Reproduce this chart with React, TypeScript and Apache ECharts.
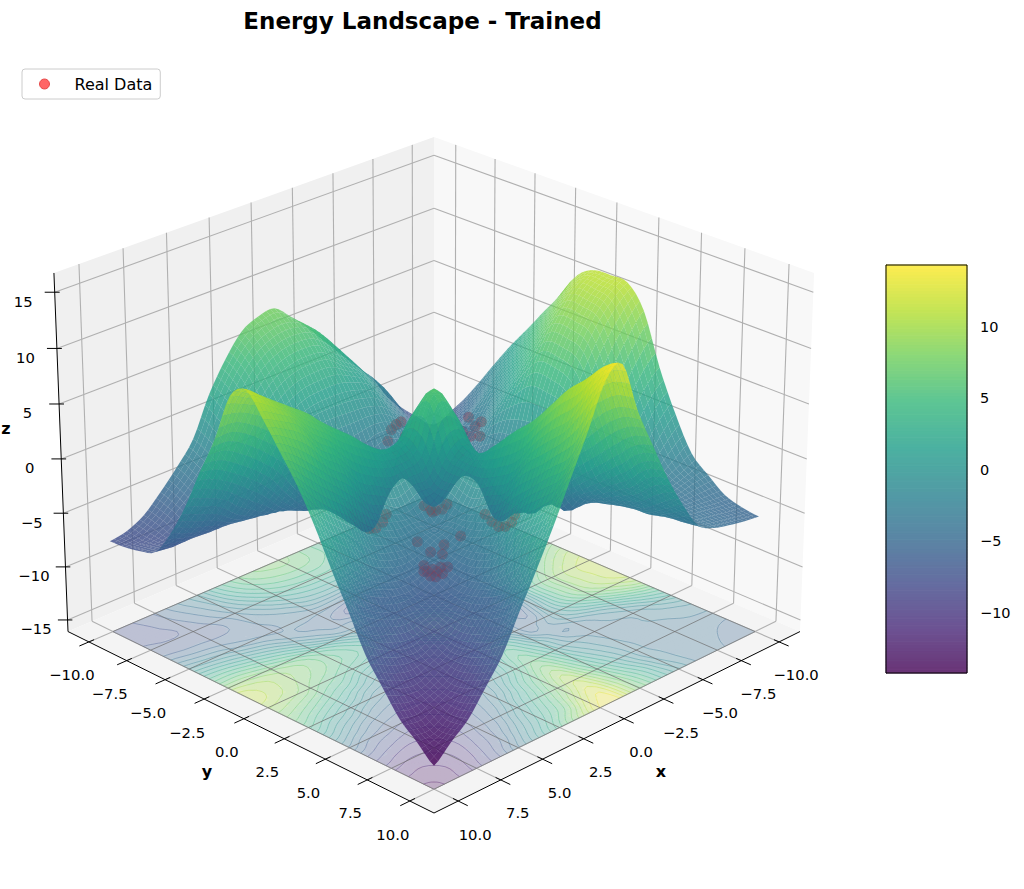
import React, { useEffect, useRef } from "react";
import * as echarts from "echarts";

const titleText = "Energy Landscape - Trained";
const xyTicks = [-10, -7.5, -5, -2.5, 0, 2.5, 5, 7.5, 10];
const zTicks = [-15, -10, -5, 0, 5, 10, 15];
const colorbarTicks = [-10, -5, 0, 5, 10];
const gridCoords = [-10, -9, -8, -7, -6, -5, -4, -3, -2, -1, 0, 1, 2, 3, 4, 5, 6, 7, 8, 9, 10];

// surface heights: one row per y (-10..10), one column per x (-10..10)
const surfaceZ = [
  [-9.5, -8, -6.5, -4.8, -2.3, -0.6, 1.2, 3, 4.8, 6.4, 7.8, 7.6, 6.8, 4.8, 2.2, -1.3, -3.3, -5, -6.5, -7.3, -7.6],
  [-7.5, -9, -7.5, -5.5, -3, -1.2, 0.8, 2.8, 4.7, 6, 6.5, 6.3, 5.5, 3.8, 1.2, -2, -4, -5.5, -6.8, -7.5, -7.5],
  [-5.5, -7, -8, -6.5, -4.5, -2.3, 0, 1.8, 3, 4.3, 4.5, 4.3, 3.5, 1.8, -0.5, -3, -4.8, -6.2, -7.2, -7.3, -7.2],
  [-3.2, -5, -6.5, -7.2, -5.5, -3.5, -1.5, 0.6, 1.5, 2, 2, 1.8, 1, -0.5, -2.5, -4.2, -5.8, -6.6, -6.7, -6.8, -6.6],
  [-0.8, -3, -4.8, -6, -6.8, -5, -3, -1.5, -1, -1, -1, -1, -1.5, -3, -4, -4.8, -5.6, -5.6, -5.3, -4.9, -4.3],
  [1.5, -0.5, -2.5, -4, -5, -6.3, -5.5, -4, -3.5, -4.5, -5.5, -5, -4.5, -4.5, -4.5, -5, -4.6, -3.8, -2.5, -1.8, -1.2],
  [3.6, 1.8, -0.5, -3, -5, -6.3, -7.5, -7.2, -5, -7, -9.3, -8.1, -6.5, -5.2, -4.8, -3.5, -1.5, 0, 1.2, 2.2, 2.6],
  [5.8, 4.3, 2, -0.5, -2.8, -5, -7.2, -8.3, -6, -1.5, -5, -4.5, -4, -4.2, -2.2, 0.3, 2.5, 4, 5.3, 6.2, 6.2],
  [7.9, 6.6, 4.5, 2, -0.3, -3.2, -5, -5.5, -3.5, -0.5, 0.5, -1.5, -2.5, 0, 2.5, 4.5, 6.5, 7.7, 8.9, 9.8, 10.6],
  [10.3, 9, 7, 4.5, 1.5, -2.5, -6, -1.5, -0.5, 4, 4.2, 2, 1.5, 2.5, 4, 5.2, 6.5, 7.8, 9.1, 10.5, 11.7],
  [11.3, 10.7, 9, 6.5, 3, -3, -8.3, -4, 0.5, 4.2, 6, 1.5, 0.8, 1, 1.8, 3, 4.7, 6, 8, 9, 9.8],
  [11.4, 10.7, 9, 6.5, 3, -2.5, -7, -4.5, -1.5, 1.8, 1.5, -1, -1.2, -1.8, -1, -0.2, 2, 3.4, 5, 6.5, 7.6],
  [11.3, 10.2, 8.4, 5.8, 2.5, -1.5, -5.8, -5, -3.2, 1, 0.8, -1.2, -3.2, -3, -3.2, -2.6, -1.7, 0.5, 1.9, 3.5, 5.3],
  [9.3, 7.5, 5.2, 2.5, 0.3, -1.8, -3.8, -5, -0.3, 2.8, 1, -1.8, -3, -3.6, -4.3, -4.5, -4, -3, -1, 0.5, 2.5],
  [4.7, 3.2, 0.8, -1.5, -3, -4.2, -4.8, -2, 1.5, 4.5, 1.8, -1, -3.2, -4.3, -5, -5.7, -5.8, -5.3, -4.4, -2.5, -0.75],
  [1, -0.5, -2.5, -3.5, -3.8, -4, -3, -1, 3, 6, 3, -0.2, -2.6, -4.5, -5.7, -6.5, -7.2, -7.2, -6.6, -5.75, -3.8],
  [-2, -2.8, -3.4, -3.7, -3.9, -3.6, -2, 0.5, 4.5, 8, 5.2, 2, -1.7, -4, -5.8, -7.2, -8, -8.8, -8.6, -7.9, -7],
  [-3.4, -3.6, -3.9, -4, -3.9, -3.2, -1, 2, 6, 10, 7, 3.4, 0.5, -3, -5.3, -7.2, -8.8, -9.6, -10.3, -10, -9.2],
  [-4.6, -4.5, -4.3, -4.1, -3.8, -3, 0, 3.5, 7.8, 11.5, 8.5, 5, 1.9, -1, -4.4, -6.6, -8.6, -10.3, -11, -11.6, -11.3],
  [-5.1, -4.9, -4.6, -4.3, -3.8, -2, 1.5, 5, 9, 13.2, 11, 6.5, 3.5, 0.5, -2.5, -5.75, -7.9, -10, -11.6, -12.6, -12.6],
  [-5.3, -5.1, -4.8, -4.4, -3.5, -1, 2, 5.6, 9.3, 14, 13.2, 9.5, 6, 2.5, -0.75, -3.8, -7, -9.2, -11.3, -12.6, -14],
];

// real data points: x, y, z
const realX = [5.8, 5.9, 5.8, 5.4, 4.8, 5.4, 5.4, 5, 5.4, 5.7, 4, 4.3, 3.4, 4.1, 2.3, 1.3, 1.4, 1.3, 1, 0.5, 1.5, 4.05, 4.35, 4.5, 4.55, 4.3, 3.7, 3.05, 0.05, 0.35, 0.5, 0.3, -0.2, -0.8, -3.2, -3.75, -4.1, -2.25, -3.15, -2.65, -4.2, -3.2, -1.7, -1.8, -5.6, -6.6, -6.1, -6.65, -5.3, -4.35, -4.3, -5.2, -3.55, -5.5];
const realY = [5.2, 5.7, 5.9, 5.9, 5.6, 4.8, 5.3, 5.4, 5.6, 5.3, 3, 4.1, 4, 4.6, 3.9, 0.7, 1.2, 1.4, 1.5, 1.3, 1.4, -0.85, -0.25, 0.3, 0.65, 0.8, 0.6, 0.15, 3.15, 3.85, 4.4, 4.6, 4.5, 4.1, -5.9, -6.15, -6.2, -5.15, -4.95, -4.05, -5.4, -4.2, -3.5, -4.1, -4.7, -4.4, -3.5, -3.65, -3.5, -3.05, -2.4, -2.9, -1.95, -2.6];
const realZ = -3;

const viridis = ["#440154", "#482878", "#3e4989", "#31688e", "#26828e", "#1f9e89", "#35b779", "#6ece58", "#b5de2b", "#fde725"];
const Z_MIN = -14.2;
const Z_MAX = 14.3;
const LIM = 11.4;
const ZLOW = -16.1;
const ZHIGH = 16.7;
const ELEV = (25 * Math.PI) / 180;
const AZIM = (45 * Math.PI) / 180;

function hexRgb(h: string) {
  return [parseInt(h.slice(1, 3), 16), parseInt(h.slice(3, 5), 16), parseInt(h.slice(5, 7), 16)];
}
const lut = viridis.map(hexRgb);
function cmapRgb(z: number) {
  const t = Math.max(0, Math.min(0.99999, (z - Z_MIN) / (Z_MAX - Z_MIN))) * (lut.length - 1);
  const i = Math.floor(t);
  const f = t - i;
  return [0, 1, 2].map((k) => lut[i][k] + (lut[i + 1][k] - lut[i][k]) * f);
}
function cmap(z: number, a: number) {
  const c = cmapRgb(z);
  return `rgba(${c[0].toFixed(0)},${c[1].toFixed(0)},${c[2].toFixed(0)},${a})`;
}
function blendOn(z: number, a: number, bg: number) {
  const c = cmapRgb(z).map((v) => v * a + bg * (1 - a));
  return `rgb(${c[0].toFixed(0)},${c[1].toFixed(0)},${c[2].toFixed(0)})`;
}

// camera
const box = [1.1905, 1.1905, 0.8929];
const R = box.map((b) => b / 2);
const wv = [Math.cos(ELEV) * Math.cos(AZIM), Math.cos(ELEV) * Math.sin(AZIM), Math.sin(ELEV)];
const DIST = 10;
const eye = R.map((r, i) => r + DIST * wv[i]);
const un = Math.hypot(wv[0], wv[1]);
const uv = [-wv[1] / un, wv[0] / un, 0];
const vv = [wv[1] * uv[2] - wv[2] * uv[1], wv[2] * uv[0] - wv[0] * uv[2], wv[0] * uv[1] - wv[1] * uv[0]];
function rawProject(x: number, y: number, z: number) {
  const p = [((x + LIM) / (2 * LIM)) * box[0], ((y + LIM) / (2 * LIM)) * box[1], ((z - ZLOW) / (ZHIGH - ZLOW)) * box[2]];
  const d = p.map((v, i) => v - eye[i]);
  const xc = d[0] * uv[0] + d[1] * uv[1] + d[2] * uv[2];
  const yc = d[0] * vv[0] + d[1] * vv[1] + d[2] * vv[2];
  const zc = d[0] * wv[0] + d[1] * wv[1] + d[2] * wv[2];
  return [xc / -zc, yc / -zc, zc];
}
const rawL = rawProject(LIM, -LIM, ZLOW);
const rawR = rawProject(-LIM, LIM, ZLOW);
const rawF = rawProject(LIM, LIM, ZLOW);
const SCALE = (800 - 68) / (rawR[0] - rawL[0]);
const CX = 434;
const CY = 813 + rawF[1] * SCALE;
function project(x: number, y: number, z: number) {
  const r = rawProject(x, y, z);
  return [CX + r[0] * SCALE, CY - r[1] * SCALE, r[2]];
}

// mesh tessellation of the read grid, for a smooth drawing of the surface
const SUB = 4;
function cr(a: number, b: number, c: number, d: number, t: number) {
  return 0.5 * (2 * b + (c - a) * t + (2 * a - 5 * b + 4 * c - d) * t * t + (3 * b - a - 3 * c + d) * t * t * t);
}
const N0 = gridCoords.length;
function rowAt(j: number, fx: number) {
  const row = surfaceZ[Math.max(0, Math.min(N0 - 1, j))];
  const i = Math.min(N0 - 2, Math.floor(fx));
  const t = fx - i;
  const g = (k: number) => row[Math.max(0, Math.min(N0 - 1, k))];
  return cr(g(i - 1), g(i), g(i + 1), g(i + 2), t);
}
function zAt(fx: number, fy: number) {
  const j = Math.min(N0 - 2, Math.floor(fy));
  const t = fy - j;
  return cr(rowAt(j - 1, fx), rowAt(j, fx), rowAt(j + 1, fx), rowAt(j + 2, fx), t);
}
const NF = (N0 - 1) * SUB + 1;
const fineCoord = Array.from({ length: NF }, (_, i) => gridCoords[0] + (i / SUB) * (gridCoords[1] - gridCoords[0]));
const fineZ = fineCoord.map((_, j) => fineCoord.map((__, i) => zAt(i / SUB, j / SUB)));
const fineP = fineZ.map((row, j) => row.map((z, i) => project(fineCoord[i], fineCoord[j], z)));
const floorP = fineCoord.map((y) => fineCoord.map((x) => project(x, y, ZLOW)));

type Cell = { pts: number[][]; color: string; depth: number };
const cells: Cell[] = [];
for (let j = 0; j < NF - 1; j++) {
  for (let i = 0; i < NF - 1; i++) {
    const q = [fineP[j][i], fineP[j][i + 1], fineP[j + 1][i + 1], fineP[j + 1][i]];
    const zm = (fineZ[j][i] + fineZ[j][i + 1] + fineZ[j + 1][i + 1] + fineZ[j + 1][i]) / 4;
    cells.push({
      pts: q.map((p) => [p[0], p[1]]),
      color: cmap(zm, 0.8),
      depth: (q[0][2] + q[1][2] + q[2][2] + q[3][2]) / 4,
    });
  }
}
cells.sort((a, b) => a.depth - b.depth);

// floor bands and contour lines
const BAND = 1.2;
const bandMap = new Map<number, string[]>();
const fmtP = (p: number[]) => `${p[0].toFixed(2)} ${p[1].toFixed(2)}`;
for (let j = 0; j < NF - 1; j++) {
  for (let i = 0; i < NF - 1; i++) {
    const zm = (fineZ[j][i] + fineZ[j][i + 1] + fineZ[j + 1][i + 1] + fineZ[j + 1][i]) / 4;
    const b = Math.floor(zm / BAND);
    const a = [floorP[j][i], floorP[j][i + 1], floorP[j + 1][i + 1], floorP[j + 1][i]];
    if (!bandMap.has(b)) bandMap.set(b, []);
    bandMap.get(b)!.push(`M${fmtP(a[0])}L${fmtP(a[1])}L${fmtP(a[2])}L${fmtP(a[3])}Z`);
  }
}
const bands = Array.from(bandMap.entries()).map(([b, s]) => ({ color: blendOn((b + 0.5) * BAND, 0.3, 244), path: s.join("") }));

const contourLevels: { level: number; path: string }[] = [];
for (let n = -12; n <= 12; n++) {
  const lv = n * BAND;
  const segs: string[] = [];
  for (let j = 0; j < NF - 1; j++) {
    for (let i = 0; i < NF - 1; i++) {
      const v = [fineZ[j][i], fineZ[j][i + 1], fineZ[j + 1][i + 1], fineZ[j + 1][i]];
      const p = [floorP[j][i], floorP[j][i + 1], floorP[j + 1][i + 1], floorP[j + 1][i]];
      const cross: number[][] = [];
      for (let k = 0; k < 4; k++) {
        const a = v[k];
        const b = v[(k + 1) % 4];
        if (a < lv !== b < lv) {
          const t = (lv - a) / (b - a);
          const m = p[(k + 1) % 4];
          cross.push([p[k][0] + (m[0] - p[k][0]) * t, p[k][1] + (m[1] - p[k][1]) * t]);
        }
      }
      if (cross.length >= 2) segs.push(`M${fmtP(cross[0])}L${fmtP(cross[1])}`);
      if (cross.length === 4) segs.push(`M${fmtP(cross[2])}L${fmtP(cross[3])}`);
    }
  }
  contourLevels.push({ level: lv, path: segs.join("") });
}

const P = project;
const panes = [
  { pts: [P(LIM, -LIM, ZLOW), P(-LIM, -LIM, ZLOW), P(-LIM, -LIM, ZHIGH), P(LIM, -LIM, ZHIGH)], color: "#f0f0f0" },
  { pts: [P(-LIM, LIM, ZLOW), P(-LIM, -LIM, ZLOW), P(-LIM, -LIM, ZHIGH), P(-LIM, LIM, ZHIGH)], color: "#f8f8f8" },
  { pts: [P(LIM, LIM, ZLOW), P(LIM, -LIM, ZLOW), P(-LIM, -LIM, ZLOW), P(-LIM, LIM, ZLOW)], color: "#f4f4f4" },
];
type Seg = { a: number[]; b: number[]; color: string; w: number };
const gridSegs: Seg[] = [];
const GC = "#b0b0b0";
xyTicks.forEach((t) => {
  gridSegs.push({ a: P(t, LIM, ZLOW), b: P(t, -LIM, ZLOW), color: GC, w: 1.1 });
  gridSegs.push({ a: P(t, -LIM, ZLOW), b: P(t, -LIM, ZHIGH), color: GC, w: 1.1 });
  gridSegs.push({ a: P(LIM, t, ZLOW), b: P(-LIM, t, ZLOW), color: GC, w: 1.1 });
  gridSegs.push({ a: P(-LIM, t, ZLOW), b: P(-LIM, t, ZHIGH), color: GC, w: 1.1 });
});
zTicks.forEach((t) => {
  gridSegs.push({ a: P(LIM, -LIM, t), b: P(-LIM, -LIM, t), color: GC, w: 1.1 });
  gridSegs.push({ a: P(-LIM, -LIM, t), b: P(-LIM, LIM, t), color: GC, w: 1.1 });
});
const floorOver: Seg[] = [];
xyTicks.forEach((t) => {
  const c = "rgba(110,110,110,0.7)";
  floorOver.push({ a: P(t, 10, ZLOW), b: P(t, -10, ZLOW), color: c, w: 1 });
  floorOver.push({ a: P(10, t, ZLOW), b: P(-10, t, ZLOW), color: c, w: 1 });
});
const axisSegs: Seg[] = [
  { a: P(LIM, -LIM, ZLOW), b: P(LIM, LIM, ZLOW), color: "#000", w: 1 },
  { a: P(LIM, LIM, ZLOW), b: P(-LIM, LIM, ZLOW), color: "#000", w: 1 },
  { a: P(LIM, -LIM, ZLOW), b: P(LIM, -LIM, ZHIGH), color: "#000", w: 1 },
];
xyTicks.forEach((t) => {
  axisSegs.push({ a: P(LIM - 0.3, t, ZLOW), b: P(LIM + 0.55, t, ZLOW), color: "#000", w: 1 });
  axisSegs.push({ a: P(t, LIM - 0.3, ZLOW), b: P(t, LIM + 0.55, ZLOW), color: "#000", w: 1 });
});
zTicks.forEach((t) => {
  axisSegs.push({ a: P(LIM - 0.15, -LIM + 0.15, t), b: P(LIM + 0.3, -LIM - 0.3, t), color: "#000", w: 1 });
});

const fmtTick = (t: number) => {
  const s = Number.isInteger(t) ? t.toFixed(1) : String(t);
  return s.replace("-", "\u2212");
};
const FONT = '"DejaVu Sans"';
function label(text: string, x: number, y: number, size = 14.8, bold = false) {
  return {
    type: "text",
    x,
    y,
    silent: true,
    style: { text, fill: "#000", font: `${bold ? "bold " : ""}${size}px ${FONT}`, align: "center", verticalAlign: "middle" },
  };
}
const texts: any[] = [];
xyTicks.forEach((t) => {
  const a = P(LIM, t, ZLOW);
  texts.push(label(fmtTick(t), a[0] - 17, a[1] + 33));
  const b = P(t, LIM, ZLOW);
  texts.push(label(fmtTick(t), b[0] + 17, b[1] + 33));
});
zTicks.forEach((t) => {
  const a = P(LIM, -LIM, t);
  texts.push(label(String(t).replace("-", "\u2212"), a[0] - 31.5, a[1] + 9));
});
texts.push(label("y", 207, 771, 16, true));
texts.push(label("x", 661, 771, 16, true));
texts.push(label("z", 6, 428, 16, true));

const colorLevels = Array.from({ length: 128 }, (_, i) => Z_MIN + ((i + 0.5) / 128) * (Z_MAX - Z_MIN));

function polyRender(list: { pts: number[][]; color: string }[]) {
  return (params: any, api: any) => {
    const it = list[params.dataIndex];
    return {
      type: "polygon",
      silent: true,
      shape: { points: it.pts.map((p) => api.coord([p[0], p[1]])) },
      style: { fill: it.color, stroke: "none" },
    };
  };
}
function segRender(list: Seg[]) {
  return (params: any, api: any) => {
    const s = list[params.dataIndex];
    const a = api.coord([s.a[0], s.a[1]]);
    const b = api.coord([s.b[0], s.b[1]]);
    return {
      type: "line",
      silent: true,
      shape: { x1: a[0], y1: a[1], x2: b[0], y2: b[1] },
      style: { stroke: s.color, lineWidth: s.w },
    };
  };
}
const customBase = { type: "custom", coordinateSystem: "cartesian2d", xAxisIndex: 0, yAxisIndex: 0, clip: false, silent: true, progressive: 0, animation: false };
const idx = (a: any[]) => a.map((_, i) => [i]);

export default function App() {
  const ref = useRef<HTMLDivElement>(null);
  useEffect(() => {
    document.body.style.margin = "0";
    const chart = echarts.init(ref.current!, undefined, { renderer: "svg" });
    chart.setOption({
      animation: false,
      backgroundColor: "#fff",
      title: {
        text: titleText,
        left: 417.5,
        top: 4,
        textAlign: "center",
        textStyle: { fontFamily: FONT, fontSize: 23, fontWeight: "bold", color: "#000" },
      },
      legend: {
        data: [{ name: "Real Data", itemStyle: { color: "#ff4040", borderColor: "#e03030", borderWidth: 1 } }],
        left: 22,
        top: 69,
        padding: [7, 8, 7, 17],
        itemWidth: 30,
        itemHeight: 10,
        borderColor: "#ccc",
        borderWidth: 1,
        borderRadius: 3,
        backgroundColor: "#fff",
        selectedMode: false,
        formatter: "{a|Real Data}",
        textStyle: { rich: { a: { fontFamily: FONT, fontSize: 16, color: "#000", padding: [0, 0, 0, 10] } } },
      },
      grid: [
        { left: 0, top: 0, width: 1024, height: 889, show: false },
        { left: 886, top: 265, width: 81, height: 408, show: true, borderColor: "#000", borderWidth: 1, backgroundColor: "transparent", z: 20 },
      ],
      xAxis: [
        { gridIndex: 0, type: "value", min: 0, max: 1024, show: false },
        { gridIndex: 1, type: "value", min: 0, max: 1, show: false },
      ],
      yAxis: [
        { gridIndex: 0, type: "value", min: 0, max: 889, inverse: true, show: false },
        {
          gridIndex: 1,
          type: "value",
          min: Z_MIN,
          max: Z_MAX,
          position: "right",
          splitLine: { show: false },
          axisLine: { show: true, lineStyle: { color: "#000", width: 1 } },
          axisTick: { show: true, length: 6, customValues: colorbarTicks, lineStyle: { color: "#000" } },
          axisLabel: {
            show: true,
            customValues: colorbarTicks,
            margin: 13,
            color: "#000",
            fontFamily: FONT,
            fontSize: 14.5,
            formatter: (v: number) => String(v).replace("-", "\u2212"),
          },
        },
      ],
      series: [
        { ...customBase, name: "panes", z: 1, data: idx(panes), renderItem: polyRender(panes.map((p) => ({ pts: p.pts, color: p.color }))) },
        { ...customBase, name: "grid3d", z: 2, data: idx(gridSegs), renderItem: segRender(gridSegs) },
        {
          ...customBase,
          name: "floorBands",
          z: 3,
          data: idx(bands),
          renderItem: (params: any) => {
            const b = bands[params.dataIndex];
            return { type: "path", silent: true, shape: { pathData: b.path }, style: { fill: b.color, stroke: b.color, lineWidth: 0.5 } };
          },
        },
        {
          ...customBase,
          name: "floorContours",
          z: 4,
          data: idx(contourLevels),
          renderItem: (params: any) => {
            const c = contourLevels[params.dataIndex];
            return { type: "path", silent: true, shape: { pathData: c.path }, style: { fill: "none", stroke: cmap(c.level, 0.5), lineWidth: 0.7 } };
          },
        },
        { ...customBase, name: "floorGrid", z: 5, data: idx(floorOver), renderItem: segRender(floorOver) },
        {
          type: "scatter",
          name: "Real Data",
          xAxisIndex: 0,
          yAxisIndex: 0,
          z: 6,
          symbolSize: 11,
          silent: true,
          clip: false,
          itemStyle: { color: "rgba(255,0,0,0.6)" },
          data: realX.map((x, i) => {
            const p = project(x, realY[i], realZ);
            return [p[0], p[1]];
          }),
        },
        { ...customBase, name: "surface", z: 7, data: idx(cells), renderItem: polyRender(cells) },
        { ...customBase, name: "axes3d", z: 8, data: idx(axisSegs), renderItem: segRender(axisSegs) },
        {
          type: "custom",
          name: "colorbar",
          coordinateSystem: "cartesian2d",
          xAxisIndex: 1,
          yAxisIndex: 1,
          z: 9,
          silent: true,
          progressive: 0,
          data: colorLevels.map((v) => [0, v]),
          renderItem: (params: any, api: any) => {
            const v = api.value(1);
            const d = (Z_MAX - Z_MIN) / 128;
            const a = api.coord([0, v + d / 2]);
            const b = api.coord([1, v - d / 2]);
            const c = blendOn(v, 0.8, 255);
            return { type: "rect", silent: true, shape: { x: a[0], y: a[1], width: b[0] - a[0], height: b[1] - a[1] }, style: { fill: c, stroke: c, lineWidth: 1 } };
          },
        },
      ],
      graphic: { elements: texts },
    });
    return () => chart.dispose();
  }, []);
  return <div ref={ref} style={{ width: 1024, height: 889 }} />;
}
